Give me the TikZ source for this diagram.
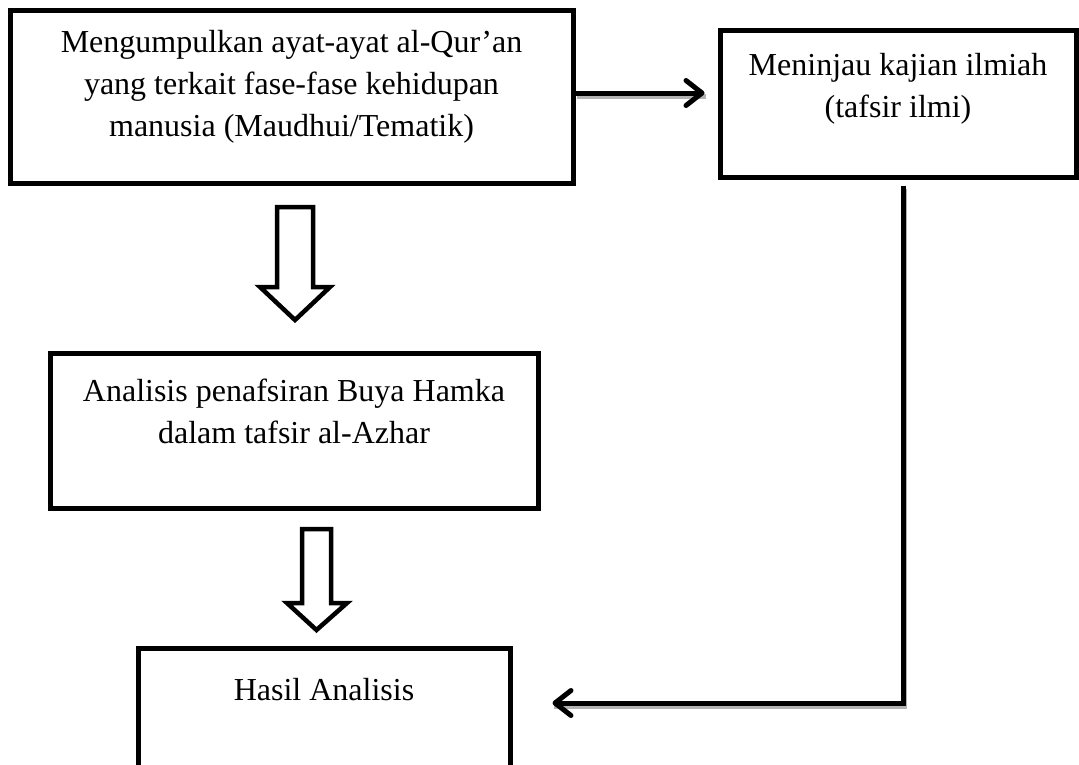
\documentclass[tikz,border=0pt]{standalone}
\usepackage{fontspec}
\setmainfont{Liberation Serif}
\usetikzlibrary{arrows.meta}
\begin{document}
\begin{tikzpicture}[x=1pt,y=1pt,
  box/.style={draw=black,line width=5pt,inner sep=0pt,rectangle},
  txt/.style={inner sep=0pt,anchor=north,align=center,font=\fontsize{32}{42}\selectfont},
  conn/.style={line width=5pt,-{Straight Barb[length=16pt,width=25pt,round]}},
  connshadow/.style={line width=5pt,draw=black!30,transform canvas={shift={(1.5,-3)}}},
  blk/.style={draw=black,line width=4.5pt,fill=white,miter limit=10}]
\useasboundingbox (0,0) rectangle (1079,-764);
\clip (0,0) rectangle (1079,-764);

% boxes
\node[box,minimum width=563,minimum height=173] (b1) at (291.5,-96.5) {};
\node[box,minimum width=356,minimum height=147] (b2) at (898,-103.5) {};
\node[box,minimum width=488,minimum height=155] (b3) at (294,-430.5) {};
\node[box,minimum width=372,minimum height=140] (b4) at (324,-718) {};

% texts
\node[txt] (t1) at ([yshift=-23]b1.north) {Mengumpulkan ayat-ayat al-Qur’an\\yang terkait fase-fase kehidupan\\manusia (Maudhui/Tematik)};
\node[txt] (t2) at ([yshift=-26]b2.north) {Meninjau kajian ilmiah\\(tafsir ilmi)};
\node[txt] (t3) at ([yshift=-28]b3.north) {Analisis penafsiran Buya Hamka\\dalam tafsir al-Azhar};
\node[txt] (t4) at ([yshift=-33]b4.north) {Hasil Analisis};

% connector b1 -> b2
\coordinate (c1) at ([yshift=3.5]b1.east);
\coordinate (c1e) at (c1 -| b2.west);
\draw[connshadow] (c1) -- ([xshift=-13]c1e);
\draw[conn,shorten >=13pt] (c1) -- (c1e);

% connector b2 -> b4
\coordinate (c2) at ([xshift=5]b2.south);
\coordinate (c3) at ([yshift=15]b4.east);
\draw[connshadow] ([yshift=-6]c2) |- ([xshift=40]c3);
\draw[conn,shorten <=6pt,shorten >=40pt] (c2) |- (c3);

% block arrows
\draw[blk] (277,-207) -- (313,-207) -- (313,-287) -- (330,-287) -- (295,-320) -- (260,-287) -- (277,-287) -- cycle;
\draw[blk] (302,-529) -- (331,-529) -- (331,-603) -- (347,-603) -- (316.5,-630) -- (287,-603) -- (302,-603) -- cycle;
\end{tikzpicture}
\end{document}
